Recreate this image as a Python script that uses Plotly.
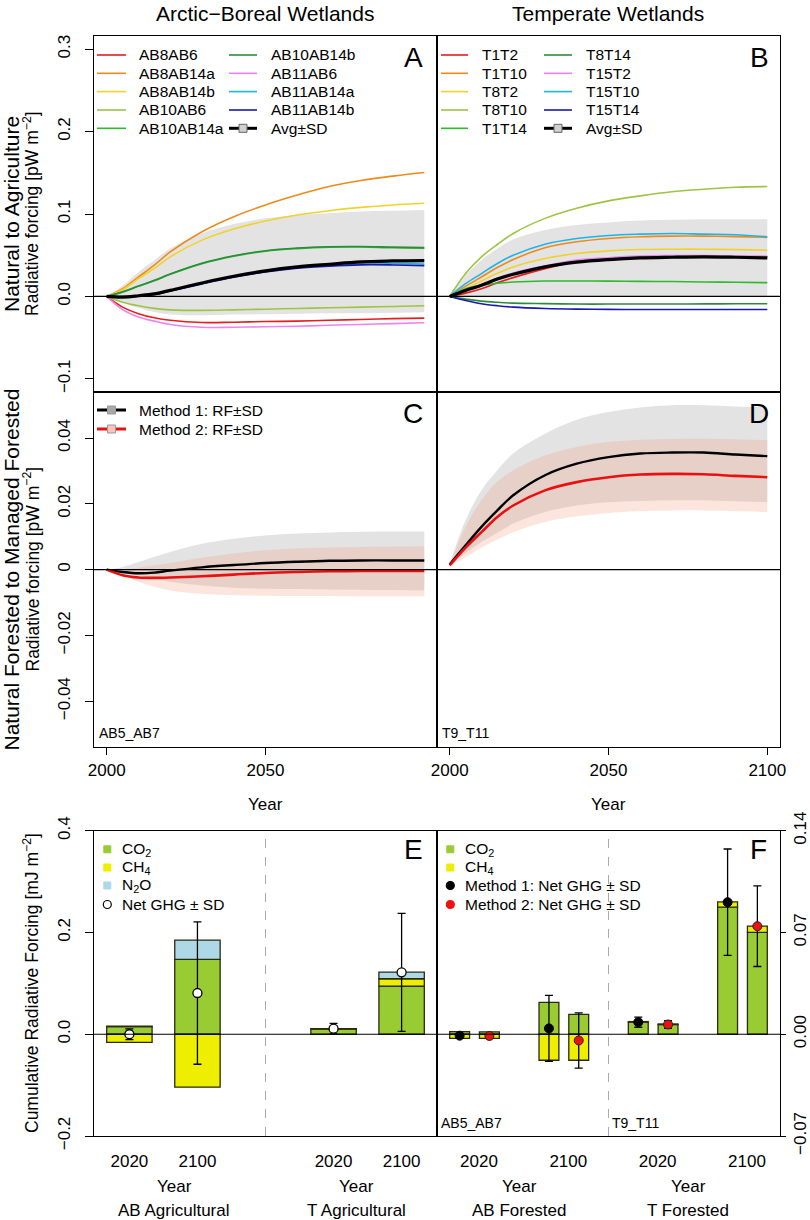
import plotly.graph_objects as go

W, H = 810, 1220
FONT = "Liberation Sans, Arial, Helvetica, sans-serif"
MINUS = "\u2212"

# ---------------- data ----------------
years = [2000, 2005, 2010, 2015, 2020, 2030, 2040, 2050, 2060, 2070, 2080, 2090, 2100]

# Panel A : Arctic-Boreal, natural -> agriculture  (pW m-2)
ab_names = ["AB8AB6", "AB8AB14a", "AB8AB14b", "AB10AB6", "AB10AB14a",
            "AB10AB14b", "AB11AB6", "AB11AB14a", "AB11AB14b"]
ab_AB8AB6 = [0, -0.013, -0.021, -0.026, -0.029, -0.0317, -0.0313, -0.0305, -0.030, -0.029, -0.028, -0.027, -0.0264]
ab_AB8AB14a = [0, 0.0093, 0.0236, 0.038, 0.054, 0.0785, 0.0967, 0.111, 0.123, 0.1333, 0.1407, 0.146, 0.1504]
ab_AB8AB14b = [0, 0.0081, 0.0215, 0.034, 0.048, 0.0683, 0.0817, 0.0915, 0.0988, 0.104, 0.108, 0.111, 0.113]
ab_AB10AB6 = [0, -0.007, -0.0114, -0.0145, -0.0163, -0.017, -0.0163, -0.0155, -0.0146, -0.0138, -0.013, -0.0122, -0.0114]
ab_AB10AB14a = [0, 0.0053, 0.0122, 0.019, 0.0268, 0.0398, 0.0488, 0.0549, 0.058, 0.0598, 0.060, 0.059, 0.0585]
ab_AB10AB14b = [0, 0.0055, 0.0125, 0.0195, 0.0272, 0.0402, 0.0493, 0.0555, 0.0587, 0.0603, 0.0605, 0.0598, 0.0592]
ab_AB11AB6 = [0, -0.016, -0.025, -0.030, -0.034, -0.0374, -0.0374, -0.0368, -0.0362, -0.035, -0.034, -0.033, -0.032]
ab_AB11AB14a = [0, -0.0008, 0.0006, 0.003, 0.0068, 0.0158, 0.0238, 0.0302, 0.0350, 0.0378, 0.0395, 0.0398, 0.0394]
ab_AB11AB14b = [0, -0.001, 0.0003, 0.0025, 0.0065, 0.0152, 0.0232, 0.0296, 0.0342, 0.0368, 0.0383, 0.0382, 0.0374]
ab_avg = [0, -0.0008, 0.0008, 0.003, 0.0073, 0.0163, 0.0244, 0.031, 0.0358, 0.039, 0.0419, 0.043, 0.0435]
ab_band_hi = [0, 0.013, 0.0297, 0.044, 0.058, 0.0764, 0.0878, 0.0948, 0.0988, 0.101, 0.103, 0.104, 0.1049]
ab_band_lo = [0, -0.007, -0.014, -0.019, -0.022, -0.023, -0.022, -0.0215, -0.021, -0.0205, -0.0203, -0.0197, -0.0191]

# Panel B : Temperate, natural -> agriculture
t_names = ["T1T2", "T1T10", "T8T2", "T8T10", "T1T14", "T8T14", "T15T2", "T15T10", "T15T14"]
t_T1T2 = [0, 0.004, 0.0093, 0.0165, 0.0228, 0.0337, 0.042, 0.0455, 0.048, 0.0485, 0.0485, 0.0482, 0.048]
t_T1T10 = [0, 0.0122, 0.0236, 0.035, 0.0447, 0.059, 0.0663, 0.0703, 0.0724, 0.0732, 0.0732, 0.0725, 0.0716]
t_T8T2 = [0, 0.0093, 0.0187, 0.028, 0.0358, 0.046, 0.052, 0.0553, 0.057, 0.0573, 0.0573, 0.0568, 0.0561]
t_T8T10 = [0, 0.0277, 0.048, 0.063, 0.0764, 0.0947, 0.107, 0.1159, 0.122, 0.127, 0.130, 0.1325, 0.1333]
t_T1T14 = [0, 0.0093, 0.0134, 0.016, 0.0175, 0.0187, 0.0187, 0.0185, 0.0183, 0.018, 0.0175, 0.0171, 0.0167]
t_T8T14 = [0, -0.0033, -0.0057, -0.0071, -0.0081, -0.0088, -0.0093, -0.0093, -0.0093, -0.0092, -0.0091, -0.009, -0.0089]
t_T15T2 = [0, 0.0075, 0.0146, 0.022, 0.0285, 0.037, 0.044, 0.047, 0.049, 0.0495, 0.0495, 0.049, 0.0488]
t_T15T10 = [0, 0.0154, 0.0277, 0.040, 0.050, 0.0634, 0.0703, 0.074, 0.0756, 0.0764, 0.0756, 0.0748, 0.0724]
t_T15T14 = [0, -0.0049, -0.0089, -0.0113, -0.013, -0.0146, -0.0154, -0.0157, -0.0159, -0.0159, -0.0159, -0.0159, -0.0159]
t_avg = [0, 0.0073, 0.0134, 0.021, 0.0268, 0.0358, 0.0415, 0.0447, 0.0467, 0.0475, 0.048, 0.0475, 0.0467]
t_band_hi = [0, 0.0256, 0.0439, 0.058, 0.069, 0.0805, 0.0866, 0.0898, 0.092, 0.093, 0.0935, 0.0935, 0.0935]
t_band_lo = [0, -0.001, -0.001, -0.0005, 0, 0, 0, 0, 0, 0, 0, 0, 0]

# Panel C : AB5_AB7 natural forested -> managed forested
c_m1 = [0, -0.0007, -0.0011, -0.0009, -0.0003, 0.0007, 0.0014, 0.002, 0.0024, 0.0027, 0.0028, 0.0028, 0.0028]
c_m1_hi = [0, 0.0008, 0.0023, 0.0039, 0.0054, 0.0079, 0.0094, 0.0104, 0.011, 0.0113, 0.0115, 0.0116, 0.0116]
c_m1_lo = [0, -0.0012, -0.0017, -0.0028, -0.0037, -0.0048, -0.0055, -0.0058, -0.0059, -0.006, -0.0061, -0.0062, -0.0063]
c_m2 = [0, -0.0017, -0.0024, -0.0025, -0.0024, -0.002, -0.0015, -0.001, -0.0007, -0.0005, -0.0004, -0.0004, -0.0004]
c_m2_hi = [0, 0.0001, 0.0006, 0.0013, 0.002, 0.0036, 0.0049, 0.0059, 0.0064, 0.0067, 0.0069, 0.007, 0.0071]
c_m2_lo = [0, -0.0017, -0.0037, -0.0052, -0.0063, -0.0073, -0.0078, -0.0079, -0.008, -0.008, -0.0081, -0.0081, -0.0081]

# Panel D : T9_T11
d_m1 = [0.0016, 0.0074, 0.013, 0.018, 0.0226, 0.0287, 0.0322, 0.0342, 0.0353, 0.0356, 0.0356, 0.035, 0.0345]
d_m1_hi = [0.0018, 0.015, 0.0241, 0.0302, 0.0353, 0.0413, 0.0456, 0.0479, 0.0493, 0.050, 0.050, 0.0496, 0.0494]
d_m1_lo = [0.0014, 0.005, 0.0084, 0.0112, 0.014, 0.0175, 0.0195, 0.0205, 0.0209, 0.0211, 0.0211, 0.0208, 0.0205]
d_m2 = [0.0013, 0.0067, 0.0114, 0.016, 0.0195, 0.0241, 0.0266, 0.0281, 0.0289, 0.0291, 0.029, 0.0285, 0.0281]
d_m2_hi = [0.0013, 0.013, 0.0211, 0.0267, 0.0302, 0.0347, 0.0373, 0.0388, 0.0395, 0.0397, 0.0398, 0.0396, 0.0393]
d_m2_lo = [0.0012, 0.0038, 0.0067, 0.0092, 0.0114, 0.0145, 0.0162, 0.0172, 0.0178, 0.018, 0.018, 0.0178, 0.0175]

# Panel E : cumulative RF, agricultural (mJ m-2); slots: AB2020, AB2100, (gap), T2020, T2100
e_pos = [0, 1, 3, 4]
e_co2 = [0.015, 0.147, 0.010, 0.0946]
e_ch4 = [-0.016, -0.104, 0.001, 0.0144]
e_n2o = [0.001, 0.038, 0.0, 0.013]
e_net = [0.0, 0.081, 0.011, 0.1216]
e_sd = [0.0104, 0.14, 0.0103, 0.116]
e_ticks = ["2020", "2100", "2020", "2100"]
e_groups = ["AB Agricultural", "T Agricultural"]

# Panel F : cumulative RF, forested (right axis units)
f_pos_m1 = [0, 3, 6, 9]
f_pos_m2 = [1, 4, 7, 10]
f_co2_m1 = [0.0018, 0.0219, 0.0083, 0.0874]
f_ch4_m1 = [-0.0028, -0.0179, 0.0004, 0.0036]
f_net_m1 = [-0.001, 0.0040, 0.0083, 0.0908]
f_sd_m1 = [0.0015, 0.0227, 0.0035, 0.0366]
f_co2_m2 = [0.0016, 0.0136, 0.0067, 0.0701]
f_ch4_m2 = [-0.0028, -0.0179, 0.0003, 0.0042]
f_net_m2 = [-0.0012, -0.0043, 0.0067, 0.0743]
f_sd_m2 = [0.0012, 0.019, 0.0026, 0.0277]
f_ticks = ["2020", "2100", "2020", "2100"]
f_groups = ["AB Forested", "T Forested"]

line_colors = ["#E41E1E", "#EE8A1A", "#F2D22A", "#9DC443", "#2DBB2D",
               "#2E8B3E", "#EE82EE", "#1EB4E6", "#1A1AAA"]
CO2_COL, CH4_COL, N2O_COL = "#99CC33", "#EEEE00", "#ADD8E6"
RED = "#E81010"
GRAY_BAND = "#E3E3E3"
PINK_BAND = "rgba(245,150,120,0.25)"

# ---------------- geometry helpers ----------------
def px(x):
    return x / W

def py(y):
    return 1 - y / H

XL = [px(94), px(437)]
XR = [px(437), px(780)]
Y_AB = [py(392), py(36)]
Y_CD = [py(747.3), py(392)]
Y_EF = [py(1136), py(830.7)]

fig = go.Figure()

def band(x, lo, hi, color, xa, ya):
    fig.add_trace(go.Scatter(x=x, y=lo, mode="lines", line=dict(width=0, shape="spline"),
                             hoverinfo="skip", xaxis=xa, yaxis=ya))
    fig.add_trace(go.Scatter(x=x, y=hi, mode="lines", line=dict(width=0, shape="spline"),
                             fill="tonexty", fillcolor=color,
                             hoverinfo="skip", xaxis=xa, yaxis=ya))

# Panel A
band(years, ab_band_lo, ab_band_hi, GRAY_BAND, "x", "y")
ab_series = [ab_AB8AB6, ab_AB8AB14a, ab_AB8AB14b, ab_AB10AB6, ab_AB10AB14a,
             ab_AB10AB14b, ab_AB11AB6, ab_AB11AB14a, ab_AB11AB14b]
for i, (nm, ser) in enumerate(zip(ab_names, ab_series)):
    fig.add_trace(go.Scatter(x=years, y=ser, mode="lines", name=nm,
                             line=dict(color=line_colors[i], width=1.6, shape="spline"),
                             xaxis="x", yaxis="y"))
fig.add_trace(go.Scatter(x=years, y=ab_avg, mode="lines", name="Avg\u00b1SD",
                         line=dict(color="black", width=3.2, shape="spline"), xaxis="x", yaxis="y"))

# Panel B
band(years, t_band_lo, t_band_hi, GRAY_BAND, "x2", "y2")
t_series = [t_T1T2, t_T1T10, t_T8T2, t_T8T10, t_T1T14, t_T8T14, t_T15T2, t_T15T10, t_T15T14]
for i, (nm, ser) in enumerate(zip(t_names, t_series)):
    fig.add_trace(go.Scatter(x=years, y=ser, mode="lines", name=nm,
                             line=dict(color=line_colors[i], width=1.6, shape="spline"),
                             xaxis="x2", yaxis="y2"))
fig.add_trace(go.Scatter(x=years, y=t_avg, mode="lines", name="Avg\u00b1SD",
                         line=dict(color="black", width=3.2, shape="spline"), xaxis="x2", yaxis="y2"))

# Panels C and D
for (xa, ya, m1, m1lo, m1hi, m2, m2lo, m2hi) in [
        ("x3", "y3", c_m1, c_m1_lo, c_m1_hi, c_m2, c_m2_lo, c_m2_hi),
        ("x4", "y4", d_m1, d_m1_lo, d_m1_hi, d_m2, d_m2_lo, d_m2_hi)]:
    band(years, m1lo, m1hi, GRAY_BAND, xa, ya)
    band(years, m2lo, m2hi, PINK_BAND, xa, ya)
    fig.add_trace(go.Scatter(x=years, y=m1, mode="lines", name="Method 1: RF\u00b1SD",
                             line=dict(color="black", width=2.4, shape="spline"), xaxis=xa, yaxis=ya))
    fig.add_trace(go.Scatter(x=years, y=m2, mode="lines", name="Method 2: RF\u00b1SD",
                             line=dict(color=RED, width=2.6, shape="spline"), xaxis=xa, yaxis=ya))

# Panel E bars
BAR_LINE = dict(color="#2A2A10", width=1.3)
BW = 0.667
fig.add_trace(go.Bar(x=e_pos, y=e_co2, width=BW, name="CO2", marker=dict(color=CO2_COL, line=BAR_LINE),
                     xaxis="x5", yaxis="y5"))
fig.add_trace(go.Bar(x=e_pos, y=e_ch4, width=BW, name="CH4", marker=dict(color=CH4_COL, line=BAR_LINE),
                     xaxis="x5", yaxis="y5"))
fig.add_trace(go.Bar(x=e_pos, y=e_n2o, width=BW, name="N2O", marker=dict(color=N2O_COL, line=BAR_LINE),
                     xaxis="x5", yaxis="y5"))
fig.add_trace(go.Scatter(x=e_pos, y=e_net, mode="markers", name="Net GHG",
                         marker=dict(symbol="circle", size=9, color="white", line=dict(color="black", width=1.3)),
                         error_y=dict(type="data", array=e_sd, color="black", thickness=1.3, width=4),
                         xaxis="x5", yaxis="y5"))

# Panel F bars
f_pos = f_pos_m1 + f_pos_m2
fig.add_trace(go.Bar(x=f_pos, y=f_co2_m1 + f_co2_m2, width=BW, name="CO2",
                     marker=dict(color=CO2_COL, line=BAR_LINE), xaxis="x6", yaxis="y6"))
fig.add_trace(go.Bar(x=f_pos, y=f_ch4_m1 + f_ch4_m2, width=BW, name="CH4",
                     marker=dict(color=CH4_COL, line=BAR_LINE), xaxis="x6", yaxis="y6"))
fig.add_trace(go.Scatter(x=f_pos_m1, y=f_net_m1, mode="markers", name="Method 1",
                         marker=dict(symbol="circle", size=9, color="black", line=dict(color="black", width=1)),
                         error_y=dict(type="data", array=f_sd_m1, color="black", thickness=1.3, width=4),
                         xaxis="x6", yaxis="y6"))
fig.add_trace(go.Scatter(x=f_pos_m2, y=f_net_m2, mode="markers", name="Method 2",
                         marker=dict(symbol="circle", size=9, color="#EE1111", line=dict(color="#222", width=1)),
                         error_y=dict(type="data", array=f_sd_m2, color="black", thickness=1.3, width=4),
                         xaxis="x6", yaxis="y6"))

# ---------------- axes ----------------
TICKFONT = dict(family=FONT, size=17, color="black")
base = dict(showline=True, linecolor="black", linewidth=1, mirror=True, showgrid=False,
            zeroline=False, tickfont=TICKFONT, tickcolor="black", fixedrange=True,
            automargin=False)
XR_YEARS = [1996, 2104]

def yticks(vals, txt, standoff=8, ticklen=8):
    return dict(tickmode="array", tickvals=vals, ticktext=txt, ticks="outside", ticklen=ticklen,
                tickangle=-90, ticklabelstandoff=standoff)

layout_axes = dict(
    xaxis=dict(base, domain=XL, range=XR_YEARS, anchor="y", showticklabels=False, ticks=""),
    yaxis=dict(base, domain=Y_AB, range=[-0.116, 0.316], anchor="x",
               **yticks([-0.1, 0, 0.1, 0.2, 0.3], [MINUS + "0.1", "0.0", "0.1", "0.2", "0.3"])),
    xaxis2=dict(base, domain=XR, range=XR_YEARS, anchor="y2", showticklabels=False, ticks=""),
    yaxis2=dict(base, domain=Y_AB, range=[-0.116, 0.316], anchor="x2", showticklabels=False, ticks=""),
    xaxis3=dict(base, domain=XL, range=XR_YEARS, anchor="y3", tickmode="array",
                tickvals=[2000, 2050], ticktext=["2000", "2050"], ticks="outside", ticklen=7,
                ticklabelstandoff=0),
    yaxis3=dict(base, domain=Y_CD, range=[-0.054, 0.054], anchor="x3",
                **yticks([-0.04, -0.02, 0, 0.02, 0.04],
                         [MINUS + "0.04", MINUS + "0.02", "0", "0.02", "0.04"])),
    xaxis4=dict(base, domain=XR, range=XR_YEARS, anchor="y4", tickmode="array",
                tickvals=[2000, 2050, 2100], ticktext=["2000", "2050", "2100"], ticks="outside",
                ticklen=7, ticklabelstandoff=0),
    yaxis4=dict(base, domain=Y_CD, range=[-0.054, 0.054], anchor="x4", showticklabels=False, ticks=""),
    xaxis5=dict(base, domain=XL, range=[-0.52, 4.52], anchor="y5", tickmode="array",
                tickvals=e_pos, ticktext=e_ticks, ticks="", ticklabelstandoff=10),
    yaxis5=dict(base, domain=Y_EF, range=[-0.2, 0.4], anchor="x5",
                **yticks([-0.2, 0, 0.2, 0.4], [MINUS + "0.2", "0.0", "0.2", "0.4"])),
    xaxis6=dict(base, domain=XR, range=[-0.76, 10.76], anchor="y6", tickmode="array",
                tickvals=[0.65, 3.65, 6.65, 9.65], ticktext=f_ticks, ticks="", ticklabelstandoff=10),
    yaxis6=dict(base, domain=Y_EF, range=[-0.07, 0.14], anchor="x6", side="right",
                **yticks([-0.07, 0, 0.07, 0.14], [MINUS + "0.07", "0.00", "0.07", "0.14"],
                         standoff=0, ticklen=5)),
)

# ---------------- shapes ----------------
shapes = []
for xa, ya in [("x", "y"), ("x2", "y2"), ("x3", "y3"), ("x4", "y4"), ("x5", "y5"), ("x6", "y6")]:
    shapes.append(dict(type="line", xref=xa + " domain", yref=ya, x0=0, x1=1, y0=0, y1=0,
                       line=dict(color="black", width=1.2), layer="above"))
shapes.append(dict(type="line", xref="x5", yref="y5 domain", x0=2, x1=2, y0=0, y1=1,
                   line=dict(color="#AAAAAA", width=1, dash="dash")))
shapes.append(dict(type="line", xref="x6", yref="y6 domain", x0=5, x1=5, y0=0, y1=1,
                   line=dict(color="#AAAAAA", width=1, dash="dash")))

# ---------------- annotations ----------------
def ann(text, x, y, size=17, angle=0, xanchor="center", yanchor="middle"):
    return dict(text=text, x=px(x), y=py(y), xref="paper", yref="paper", showarrow=False,
                textangle=angle, xanchor=xanchor, yanchor=yanchor,
                font=dict(family=FONT, size=size, color="black"))

anns = [
    ann("Arctic" + MINUS + "Boreal Wetlands", 265, 14, size=21),
    ann("Temperate Wetlands", 608, 14, size=21),
    ann("A", 413, 58, size=28), ann("B", 759, 58, size=28),
    ann("C", 413, 413, size=28), ann("D", 759, 413, size=28),
    ann("E", 413, 849, size=28), ann("F", 758, 849, size=28),
    ann("Natural to Agriculture", 11, 214, size=21, angle=-90),
    ann("Radiative forcing [pW m<sup>" + MINUS + "2</sup>]", 31, 214, size=17.5, angle=-90),
    ann("Natural Forested to Managed Forested", 11, 569.5, size=21, angle=-90),
    ann("Radiative forcing [pW m<sup>" + MINUS + "2</sup>]", 31, 569.5, size=17.5, angle=-90),
    ann("Cumulative Radiative Forcing [mJ m<sup>" + MINUS + "2</sup>]", 31, 983, size=17.5, angle=-90),
    ann("AB5_AB7", 97, 733, size=14, xanchor="left"),
    ann("T9_T11", 440, 733, size=14, xanchor="left"),
    ann("AB5_AB7", 439, 1123, size=14, xanchor="left"),
    ann("T9_T11", 610, 1123, size=14, xanchor="left"),
    ann("Year", 265, 804), ann("Year", 608, 804),
    ann("Year", 174, 1186), ann(e_groups[0], 174, 1210),
    ann("Year", 356, 1186), ann(e_groups[1], 356, 1210),
    ann("Year", 519, 1186), ann(f_groups[0], 519, 1210),
    ann("Year", 688, 1186), ann(f_groups[1], 688, 1210),
]

# ---------------- legends (drawn as keys + text) ----------------
LEG_SIZE = 15.5

def key_line(x0, x1, y, color, width):
    shapes.append(dict(type="line", xref="paper", yref="paper", x0=px(x0), x1=px(x1),
                       y0=py(y), y1=py(y), line=dict(color=color, width=width)))

def key_square(cx, y, half, fill, edge):
    shapes.append(dict(type="rect", xref="paper", yref="paper", x0=px(cx - half), x1=px(cx + half),
                       y0=py(y + half), y1=py(y - half), fillcolor=fill, line=dict(color=edge, width=1)))

def key_circle(cx, y, r, fill, edge):
    shapes.append(dict(type="circle", xref="paper", yref="paper", x0=px(cx - r), x1=px(cx + r),
                       y0=py(y + r), y1=py(y - r), fillcolor=fill, line=dict(color=edge, width=1.2)))

def key_text(text, x, y):
    anns.append(ann(text, x, y, size=LEG_SIZE, xanchor="left"))

rows = [55, 73.3, 91.6, 110, 128.3]
# A and B legends: two columns each
for names, cols in [(ab_names, [(97, 126, 137), (229, 257, 269)]),
                    (t_names, [(441, 468, 480), (544, 572, 584)])]:
    entries = list(zip(names, line_colors)) + [("Avg\u00b1SD", "black")]
    for k, (nm, col) in enumerate(entries):
        c = cols[0] if k < 5 else cols[1]
        y = rows[k % 5]
        if nm == "Avg\u00b1SD":
            key_line(c[0], c[1], y, "black", 3)
            key_square((c[0] + c[1]) / 2, y, 4, "#D0D0D0", "#666")
        else:
            key_line(c[0], c[1], y, col, 1.6)
        key_text(nm, c[2], y)

# C legend
for y, nm, col, fill in [(410, "Method 1: RF\u00b1SD", "black", "#A8A8A8"),
                         (429, "Method 2: RF\u00b1SD", RED, "#F6C4BA")]:
    key_line(97, 126, y, col, 3)
    key_square(111.5, y, 4, fill, "#999")
    key_text(nm, 137, y)

# E legend
e_rows = [849.3, 867.5, 885.5, 904.5]
key_square(107.3, e_rows[0], 3.5, CO2_COL, CO2_COL); key_text("CO<sub>2</sub>", 119.5, e_rows[0])
key_square(107.3, e_rows[1], 3.5, CH4_COL, CH4_COL); key_text("CH<sub>4</sub>", 119.5, e_rows[1])
key_square(107.3, e_rows[2], 3.5, N2O_COL, N2O_COL); key_text("N<sub>2</sub>O", 119.5, e_rows[2])
key_circle(107.3, e_rows[3], 4, "white", "black"); key_text("Net GHG \u00b1 SD", 119.5, e_rows[3])

# F legend
key_square(450.3, e_rows[0], 3.5, CO2_COL, CO2_COL); key_text("CO<sub>2</sub>", 463, e_rows[0])
key_square(450.3, e_rows[1], 3.5, CH4_COL, CH4_COL); key_text("CH<sub>4</sub>", 463, e_rows[1])
key_circle(450.3, e_rows[2], 4, "black", "black"); key_text("Method 1: Net GHG \u00b1 SD", 463, e_rows[2])
key_circle(450.3, e_rows[3], 4, "#EE1111", "#EE1111"); key_text("Method 2: Net GHG \u00b1 SD", 463, e_rows[3])

fig.update_layout(
    width=W, height=H, margin=dict(l=0, r=0, t=0, b=0, autoexpand=False),
    paper_bgcolor="white", plot_bgcolor="white", barmode="relative",
    font=dict(family=FONT, size=17, color="black"),
    showlegend=False, hovermode=False,
    shapes=shapes, annotations=anns, **layout_axes,
)

fig.write_html("out.html", config={"displayModeBar": False, "staticPlot": True},
               post_script="document.body.style.margin='0px';")
